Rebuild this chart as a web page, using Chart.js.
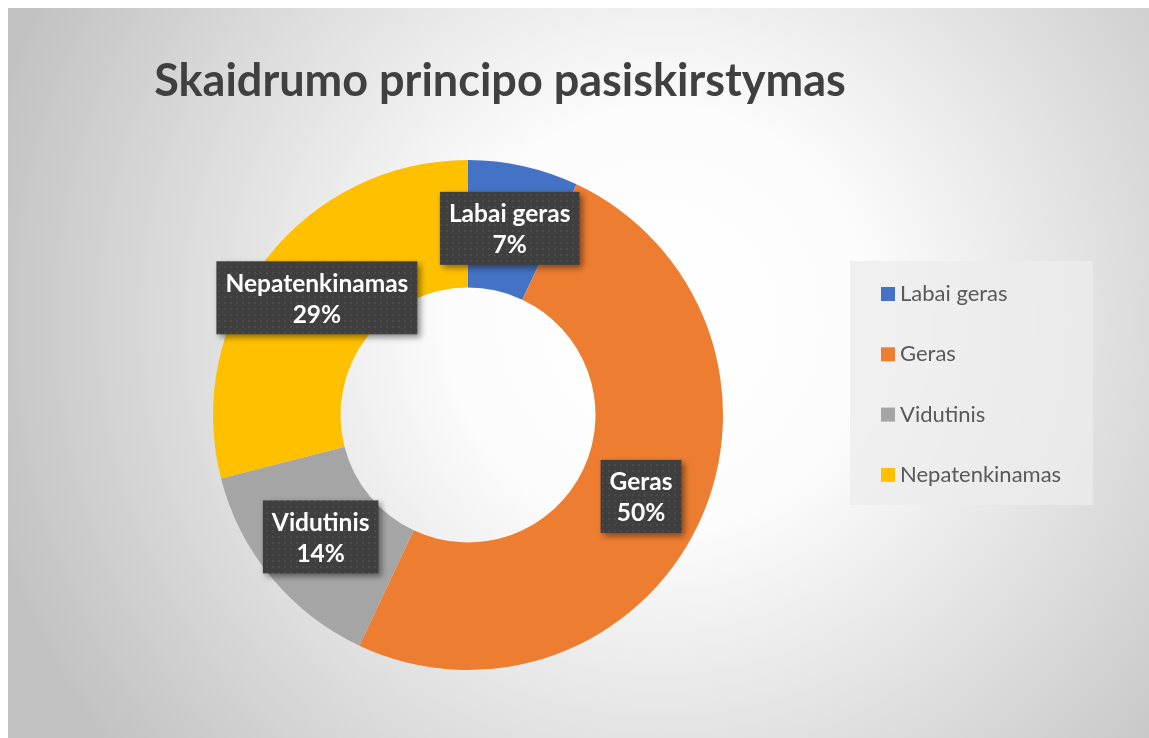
<!DOCTYPE html>
<html>
<head>
<meta charset="utf-8">
<script src="https://cdn.jsdelivr.net/npm/chart.js@4.4.1/dist/chart.umd.min.js"></script>
<style>
  body { margin: 0; background: #fff; }
  #wrap { width: 1149px; height: 738px; }
</style>
</head>
<body>
<div id="wrap"><canvas id="donut" width="1149" height="738"></canvas></div>
<script>
// Chart data
const title = "Skaidrumo principo pasiskirstymas";
const categories = ["Labai geras", "Geras", "Vidutinis", "Nepatenkinamas"];
const shares = [7, 50, 14, 29]; // percent
const colors = ["#4472C4", "#ED7D31", "#A5A5A5", "#FFC000"];

const FONT = "Lato, 'Open Sans', sans-serif";

// dotted fill used by the data label boxes
function dotPattern(ctx) {
  const tile = document.createElement("canvas");
  tile.width = 6;
  tile.height = 6;
  const t = tile.getContext("2d");
  t.fillStyle = "#3f3f3f";
  t.fillRect(0, 0, 6, 6);
  t.fillStyle = "#4b4b4b";
  t.fillRect(2, 2, 2, 2);
  return ctx.createPattern(tile, "repeat");
}

// grey radial background + title
const backdrop = {
  id: "backdrop",
  beforeDraw(chart) {
    const { ctx, width, height } = chart;
    ctx.save();
    ctx.fillStyle = "#fff";
    ctx.fillRect(0, 0, width, height);
    const g = ctx.createRadialGradient(660, 320, 0, 660, 320, 700);
    g.addColorStop(0, "#ffffff");
    g.addColorStop(0.3, "#fcfcfc");
    g.addColorStop(1, "#c2c2c2");
    ctx.fillStyle = g;
    ctx.fillRect(8, 8, width - 8, height - 8);

    ctx.fillStyle = "#404040";
    ctx.font = "bold 45px " + FONT;
    ctx.textAlign = "center";
    ctx.textBaseline = "alphabetic";
    ctx.fillText(title, 500, 96, 692);
    ctx.restore();
  }
};

// dark label boxes on each slice
const sliceLabels = {
  id: "sliceLabels",
  afterDatasetsDraw(chart) {
    const { ctx } = chart;
    const meta = chart.getDatasetMeta(0);
    const data = chart.data.datasets[0].data;
    const total = data.reduce((a, b) => a + b, 0);
    const fill = dotPattern(ctx);
    ctx.save();
    ctx.font = "bold 24.5px " + FONT;
    meta.data.forEach((arc, i) => {
      const pos = arc.tooltipPosition();
      const lines = [chart.data.labels[i], Math.round(data[i] / total * 100) + "%"];
      const w = Math.max(...lines.map(l => ctx.measureText(l).width)) + 18;
      const h = 73;
      const x = pos.x - w / 2;
      const y = pos.y - h / 2;
      ctx.save();
      ctx.shadowColor = "rgba(0,0,0,0.45)";
      ctx.shadowBlur = 6;
      ctx.shadowOffsetX = 3;
      ctx.shadowOffsetY = 3;
      ctx.fillStyle = fill;
      ctx.fillRect(x, y, w, h);
      ctx.restore();
      ctx.fillStyle = "#ffffff";
      ctx.textAlign = "center";
      ctx.textBaseline = "middle";
      ctx.fillText(lines[0], pos.x, pos.y - 14);
      ctx.fillText(lines[1], pos.x, pos.y + 17);
    });
    ctx.restore();
  }
};

// legend panel on the right
const sideLegend = {
  id: "sideLegend",
  afterDraw(chart) {
    const { ctx } = chart;
    const ds = chart.data.datasets[0];
    ctx.save();
    ctx.fillStyle = "rgba(236,236,236,0.75)";
    ctx.fillRect(850, 261, 243, 244);
    ctx.font = "22px " + FONT;
    ctx.textAlign = "left";
    ctx.textBaseline = "middle";
    chart.data.labels.forEach((label, i) => {
      const cy = 294 + i * 60.3;
      ctx.fillStyle = ds.backgroundColor[i];
      ctx.fillRect(881, cy - 7, 14, 14);
      ctx.fillStyle = "#595959";
      ctx.fillText(label, 900, cy);
    });
    ctx.restore();
  }
};

new Chart(document.getElementById("donut"), {
  type: "doughnut",
  data: {
    labels: categories,
    datasets: [{
      data: shares,
      backgroundColor: colors,
      borderWidth: 0
    }]
  },
  options: {
    responsive: false,
    animation: false,
    cutout: "50%",
    layout: { padding: { left: 213, right: 426, top: 160, bottom: 68 } },
    plugins: {
      legend: { display: false },
      tooltip: { enabled: false },
      title: { display: false }
    }
  },
  plugins: [backdrop, sliceLabels, sideLegend]
});
</script>
</body>
</html>
